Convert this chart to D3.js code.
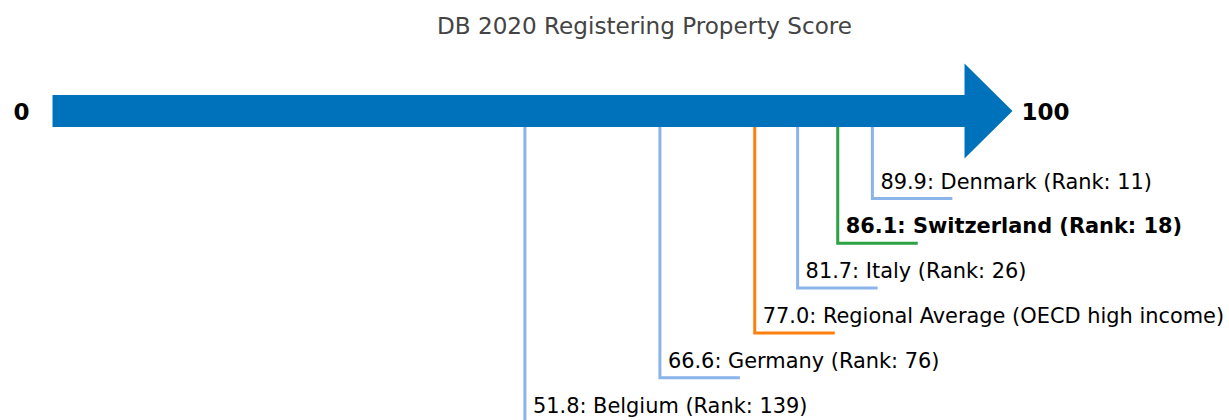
<!DOCTYPE html>
<html>
<head>
<meta charset="utf-8">
<script src="https://cdn.jsdelivr.net/npm/d3@7"></script>
<style>
  body { margin: 0; background: #fff; }
  svg { display: block; font-family: "DejaVu Sans", sans-serif; }
</style>
</head>
<body>
<svg id="chart" width="1229" height="420"></svg>
<script>
// ---> Data
const title = "DB 2020 Registering Property Score";
const names = ["Denmark", "Switzerland", "Italy", "Regional Average (OECD high income)", "Germany", "Belgium"];
const scores = [89.9, 86.1, 81.7, 77.0, 66.6, 51.8];
const ranks = [11, 18, 26, null, 76, 139];
const kinds = ["peer", "focus", "peer", "region", "peer", "peer"];
const axisEnds = [0, 100];

const colors = {peer: "#8ab4ea", focus: "#2ca244", region: "#ff7f0e"};

const svg = d3.select("#chart");

// scales
const x = d3.scaleLinear().domain(axisEnds).range([52.5, 964.5]);
const level = d3.scaleLinear().domain([0, names.length - 1]).range([198.5, 422.5]);

const barTop = 95;
const barBottom = 127;
const barMid = (barTop + barBottom) / 2;
const headLen = 48;
const headHalf = 47.5;

// title
svg.append("text")
    .attr("x", 644.5)
    .attr("y", 34)
    .attr("text-anchor", "middle")
    .attr("font-size", 23.1)
    .attr("fill", "#444")
    .text(title);

// leader lines (drawn first so arrow sits on top)
const rows = names.map((n, i) => ({name: n, score: scores[i], rank: ranks[i], kind: kinds[i], i: i}));

const leaders = svg.append("g").attr("class", "leaders");
leaders.selectAll("path")
    .data(rows)
    .enter()
    .append("path")
    .attr("fill", "none")
    .attr("stroke-width", 3)
    .attr("stroke", (d) => colors[d.kind])
    .attr("d", (d) => {
        const lx = x(d.score);
        const ly = level(d.i);
        return `M${lx},${barBottom - 2}V${ly}H${lx + 80}`;
    });

leaders.selectAll("text")
    .data(rows)
    .enter()
    .append("text")
    .attr("x", (d) => x(d.score) + 8)
    .attr("y", (d) => level(d.i) - 10)
    .attr("font-size", 20.9)
    .attr("font-weight", (d) => d.kind === "focus" ? "bold" : "normal")
    .attr("fill", "#000")
    .text((d) => `${d.score.toFixed(1)}: ${d.name}` + (d.rank != null ? ` (Rank: ${d.rank})` : ""));

// arrow
const x0 = x(axisEnds[0]);
const x1 = x(axisEnds[1]);
svg.append("path")
    .attr("fill", "#0072bc")
    .attr("d", `M${x0},${barTop}H${x1}V${barMid - headHalf}L${x1 + headLen},${barMid}L${x1},${barMid + headHalf}V${barBottom}H${x0}Z`);

// end labels
svg.append("text")
    .attr("x", x0 - 23)
    .attr("y", barMid + 8.5)
    .attr("text-anchor", "end")
    .attr("font-size", 23)
    .attr("font-weight", "bold")
    .text(axisEnds[0]);

svg.append("text")
    .attr("x", x1 + headLen + 9)
    .attr("y", barMid + 8.5)
    .attr("font-size", 23)
    .attr("font-weight", "bold")
    .text(axisEnds[1]);
</script>
</body>
</html>
